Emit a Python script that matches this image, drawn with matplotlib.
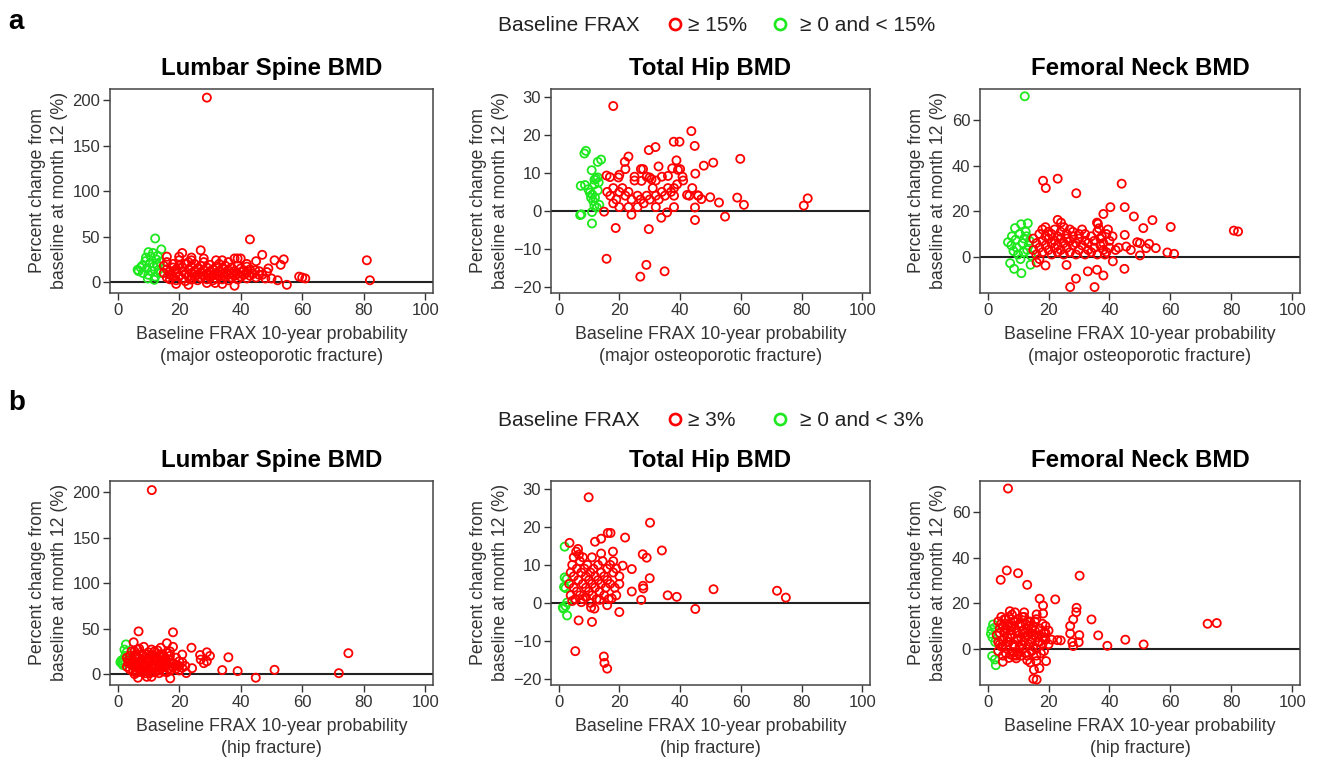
import matplotlib
matplotlib.use("Agg")
import matplotlib.pyplot as plt
from matplotlib.lines import Line2D

plt.rcParams["font.family"] = ["Liberation Sans", "DejaVu Sans"]

RED = "#ff0000"
GREEN = "#1ee81e"

# points are (baseline FRAX %, percent change from baseline %)
# ---- row a: baseline FRAX major osteoporotic fracture ----
a_ls_red = [(29, 203), (43, 47), (81, 24), (82, 2), (47, 30), (51, 24), (54, 25), (53, 19),
            (59, 6), (60, 5), (61, 4), (55, -3), (52, 2), (50, 4), (38, -4), (23, -3), (19, -2),
            (27, 35), (21, 32), (24, 27), (16, 28), (34, 24), (38, 26), (39, 26), (40, 26),
            (45, 23), (48.5, 11), (49, 15), (46, 8), (42, 17), (44.7, 13), (31.7, -1), (29, -1),
            (34, -2), (23.6, 3),
            (15, 10), (15, 18), (16, 5), (16, 14), (16, 22), (17, 8), (17, 12), (17, 3), (18, 16),
            (18, 6), (18, 20), (19, 10), (19, 2), (19, 14), (20, 7), (20, 18), (20, 24), (21, 4),
            (21, 12), (21, 16), (22, 9), (22, 20), (22, 1), (23, 14), (23, 6), (23, 22), (24, 10),
            (24, 3), (24, 17), (25, 12), (25, 6), (25, 20), (26, 8), (26, 15), (26, 2), (27, 11),
            (27, 18), (27, 5), (28, 13), (28, 7), (28, 22), (29, 9), (29, 3), (29, 16), (30, 12),
            (30, 19), (30, 5), (31, 8), (31, 14), (31, 2), (32, 10), (32, 17), (32, 4), (33, 12),
            (33, 7), (33, 20), (34, 9), (34, 15), (34, 3), (35, 11), (35, 6), (35, 18), (36, 8),
            (36, 13), (36, 2), (37, 10), (37, 16), (37, 5), (38, 12), (38, 7), (39, 9), (39, 18),
            (39, 3), (40, 11), (40, 6), (40, 15), (41, 8), (41, 13), (42, 10), (42, 4), (43, 7),
            (43, 14), (44, 9), (45, 5), (46, 12), (47, 8), (48, 4), (36, 22), (32, 24), (28, 26),
            (24, 24), (20, 28), (42, 20)]
a_ls_green = [(12.2, 48), (14.2, 36), (10, 33), (11.5, 32), (9, 23), (13, 29), (6.8, 12),
              (8.2, 10), (6.5, 13.5), (10.6, 21), (11.7, 17), (9.5, 15), (12.8, 19), (11.1, 12),
              (12.2, 6), (10, 8), (13.3, 13.5), (11.9, 2.5), (8, 18), (9.2, 27), (13.8, 22),
              (7.5, 16), (12.5, 25), (10.8, 28), (14, 10), (9.8, 4)]

a_th_red = [(18, 27.6), (43.7, 21), (44.8, 17.1), (37.9, 18.2), (39.8, 18.2), (31.9, 16.8),
            (29.7, 16), (23, 14.3), (21.8, 12.9), (59.8, 13.7), (50.9, 12.7), (47.8, 11.9),
            (38.8, 13.3), (32.9, 11.7), (27.1, 11), (27.8, 11), (39.3, 10.8), (37.4, 11.2),
            (45, 9.8), (40.8, 9), (36, 9.2), (15.8, 9.3), (16.9, 8.9), (20, 9.5), (19.7, 8.8),
            (30, 8.8), (30.6, 8.3), (27.3, 7.9), (47, 3.1), (45.8, 4.1), (49.9, 3.6), (52.8, 2.2),
            (58.8, 3.5), (61, 1.6), (80.7, 1.4), (82, 3.3), (54.8, -1.5), (44.9, 0.9),
            (44.9, -2.4), (35.7, -0.4), (33.8, -1.8), (15, -0.2), (18.8, -4.5), (29.7, -4.8),
            (15.8, -12.6), (28.9, -14.2), (26.9, -17.3), (34.9, -15.9), (42.3, 4.2), (24, -1),
            (16, 5), (17, 4), (18, 2), (18, 6), (19, 3), (20, 1), (20, 5), (21, 6), (22, 4),
            (23, 1), (23, 5), (24, 3), (25, 8), (26, 4), (27, 3), (28, 2), (29, 4), (29, 9),
            (30, 3), (31, 6), (32, 4), (32, 8), (33, 3), (34, 5), (34, 9), (35, 4), (36, 6),
            (37, 5), (38, 4), (38, 6), (39, 7), (40, 11), (41, 8), (43, 4), (44, 6), (46, 4),
            (22, 11), (25, 9), (26, 1), (32, 1), (38, 1)]
a_th_green = [(9, 15.8), (8.5, 15.1), (12.9, 12.9), (14, 13.5), (10.9, 10.7), (7.3, 6.6),
              (8.7, 6.8), (11.8, 8.2), (12.3, 8.5), (12.9, 8.8), (11.8, 7), (13.2, 7.5),
              (9.8, 5.7), (10.3, 4.8), (11.1, 4.3), (12, 3.5), (10.7, 3.5), (12.9, 5.4),
              (7.1, -1.1), (7.5, -0.9), (11, -0.3), (11, -3.3), (11.8, 1.3), (12.6, 0.9),
              (13.4, 1.6), (11.4, 2.6)]

a_fn_red = [(18.2, 33.4), (19.1, 30.2), (23, 34.3), (29.1, 27.9), (44, 32.1), (45, 21.8),
            (40.3, 21.8), (38, 18.8), (48, 17.7), (54.1, 16.1), (51.1, 12.6), (60.1, 13.1),
            (23, 16.2), (24.1, 15), (35.9, 15), (36.2, 14.5), (45, 9.6), (49.1, 6.4), (50, 6),
            (53, 5.7), (52, 3.8), (55.2, 3.8), (59, 1.9), (61.2, 1.3), (50, 0.6), (80.8, 11.5),
            (82.2, 11.1), (44.9, -5.3), (35.9, -5.7), (38, -8.2), (32.9, -6.4), (29, -9.6),
            (27.1, -13.3), (35.1, -13.3), (25.9, -3.6), (19, -3.8), (16.1, -2.5), (41.1, -2),
            (43, 4), (45.5, 4.5), (47, 3),
            (15, 3), (15, 8), (16, 1), (16, 6), (17, 10), (17, 4), (17, -1), (18, 12), (18, 7),
            (18, 2), (19, 9), (19, 5), (19, 13), (20, 3), (20, 8), (20, 11), (21, 6), (21, 1),
            (21, 10), (22, 4), (22, 12), (22, 7), (23, 2), (23, 9), (23, 5), (24, 11), (24, 3),
            (24, 8), (25, 13), (25, 6), (25, 1), (26, 10), (26, 4), (26, 8), (27, 12), (27, 2),
            (27, 7), (28, 11), (28, 5), (28, 9), (29, 1), (29, 6), (30, 10), (30, 3), (30, 8),
            (31, 12), (31, 5), (32, 1), (32, 7), (32, 10), (33, 3), (33, 6), (34, 2), (34, 9),
            (35, 4), (35, 7), (36, 1), (36, 11), (37, 5), (37, 8), (38, 3), (38, 6), (39, 10),
            (39, 2), (40, 7), (40, 4), (41, 9), (42, 3), (36.5, 12.5), (37.5, 9), (38.5, 1),
            (39.5, 12)]
a_fn_green = [(12.2, 70.5), (13.2, 14.7), (11, 14.3), (9, 12.6), (6.7, 6.4), (7.4, -2.8),
              (8.7, -5.3), (11.1, -7.2), (14.1, -3.5), (10.5, 10), (12, 8), (8, 9), (9.5, 4),
              (11.5, 6), (13, 3), (12.5, 11), (10, 1), (7.8, 5), (13.8, 7), (9.2, 7.5),
              (11.8, 2), (12.8, 9), (10.8, -1), (8.5, 2.5), (13.5, 5), (14.2, 0.5)]

# ---- row b: baseline FRAX hip fracture ----
b_ls_red = [(11.1, 202.5), (6.8, 47), (18, 46), (16, 34), (5.2, 35), (24, 29), (29, 24),
            (26.8, 21), (21, 21.5), (36, 18.5), (75, 23), (71.9, 1), (51, 4.7), (39, 3.3),
            (34, 4.4), (44.9, -4), (24.2, 6.5), (22.3, 1.1), (29, 14), (30, 20), (28, 12),
            (27, 16), (17.1, -4.7), (11, -3), (9.5, -3), (6.6, -4), (5.5, 0),
            (3, 8), (3.5, 15), (4, 5), (4, 20), (4.5, 11), (5, 3), (5, 14), (5.5, 25), (6, 8),
            (6, 18), (6.5, 2), (7, 12), (7, 28), (7.5, 6), (8, 16), (8, 22), (8.5, 9), (9, 4),
            (9, 19), (9.5, 13), (10, 7), (10, 24), (10.5, 17), (11, 10), (11, 2), (11.5, 21),
            (12, 14), (12, 6), (12.5, 18), (13, 11), (13, 26), (13.5, 4), (14, 15), (14, 9),
            (14.5, 20), (15, 13), (15, 3), (15.5, 17), (16, 10), (16, 23), (16.5, 6), (17, 15),
            (17, 12), (18, 30), (18, 8), (19, 18), (19, 10), (20, 4), (20, 14), (21, 7), (22, 9),
            (3.5, 12), (4.5, 10), (6, 2), (7.5, 6), (9, 1), (10.5, 1), (12, 2), (13.5, 1),
            (15, 3), (8, 2), (11, 27), (14, 29), (17, 25), (19.5, 9),
            (3, 18), (4, 13), (4.5, 25), (5, 9), (5.5, 19), (6, 12), (6.5, 27), (7, 5), (7, 17),
            (8, 10), (8.5, 30), (9, 14), (9.5, 22), (10, 3), (10, 16), (11, 7), (11, 20),
            (12, 11), (12, 25), (13, 4), (13, 17), (14, 12), (14, 22), (15, 8), (15, 19),
            (16, 14), (17, 4), (17, 20), (18, 12), (19, 6), (20, 9), (21, 13), (6, 22), (9, 8),
            (12, 9), (14, 6), (16, 2)]
b_ls_green = [(2.7, 32.7), (3, 24.4), (1.4, 12), (0.9, 13), (1.9, 16), (2.5, 20), (1.7, 10),
              (2.2, 27), (1.2, 15), (2.9, 18)]

b_th_red = [(9.9, 27.8), (30.1, 21.1), (21.9, 17.2), (16.2, 18.4), (17.1, 18.4), (14, 16.9),
            (12, 16.1), (3.6, 15.8), (6.4, 14.2), (5.8, 13.5), (6.7, 12.7), (34, 13.8),
            (27.7, 12.8), (29, 11.9), (17.9, 13.5), (24.1, 8.9), (21.1, 9.8), (30, 6.5),
            (27.8, 4.5), (27.9, 3.8), (24.1, 3), (27.2, 0.8), (35.9, 2), (38.9, 1.6), (51, 3.6),
            (71.9, 3.2), (74.8, 1.4), (45, -1.6), (20, -2.4), (6.6, -4.6), (11, -5),
            (5.5, -12.7), (14.9, -14.1), (15.1, -15.8), (16, -17.3), (11.8, -1.5), (10.7, -1.2),
            (16, -0.6),
            (3.5, 5), (4, 8), (4, 2), (4.5, 10), (5, 4), (5, 7), (5.5, 1), (6, 9), (6, 3),
            (6.5, 6), (7, 11), (7, 2), (7.5, 8), (8, 5), (8, 1), (8.5, 9), (9, 4), (9, 7),
            (9.5, 10), (10, 3), (10, 6), (10.5, 8), (11, 2), (11, 5), (11.5, 9), (12, 4), (12, 7),
            (12.5, 1), (13, 10), (13, 6), (13.5, 3), (14, 8), (14, 5), (14.5, 11), (15, 2),
            (15, 7), (15.5, 4), (16, 9), (16, 6), (16.5, 1), (17, 10), (17, 5), (18, 11), (18, 8),
            (18.5, 4), (19, 9), (19, 2), (20, 7), (20, 5), (4.5, 0.5), (7.5, 0.2), (10.5, 0),
            (13.5, 0.8), (17.5, 1.2), (5, 12), (8, 12), (11, 12), (14, 13), (9, 1.5)]
b_th_green = [(2, 14.8), (2, 6.7), (2.7, 6.3), (1.8, 4.2), (2.3, 3.9), (1.4, -1.2), (2.3, -0.8),
              (2.8, 0.1), (1.6, -1.5), (2.8, -3.3)]

b_fn_red = [(6.7, 70.4), (6.3, 34.4), (4.3, 30.3), (10, 33.2), (13, 28.1), (30.2, 32.1),
            (22.2, 21.7), (17.1, 22), (18.2, 19), (29.2, 18), (29.1, 16.1), (34.1, 12.9),
            (28.1, 12.9), (27.1, 10), (30.1, 6), (36.3, 5.9), (39.3, 1.3), (45.2, 4), (51.2, 1.9),
            (72.2, 11), (75.2, 11.3), (28.1, 1.2), (27.8, 2.9), (27.1, 6.7), (24, 3.7),
            (22.9, 3.8), (29.9, 2.9), (15, -13.2), (16.1, -13.5), (15.2, -9.2), (16, -5.4),
            (17, -8.5), (19.2, -5.4), (13, -5), (5, -5.7), (9.4, -4.2), (7.5, -2.5), (8.2, -1.5),
            (16.1, 15.1), (18.2, 15.5), (7.3, 16.5), (20, 8), (21, 4),
            (3, 6), (3.5, 12), (4, 2), (4, 9), (4.5, 14), (5, 4), (5, 10), (5.5, 7), (6, 1),
            (6, 13), (6.5, 5), (7, 11), (7, 3), (7.5, 8), (8, 15), (8, 6), (8.5, 2), (9, 12),
            (9, 9), (9.5, 4), (10, 7), (10, 13), (10.5, 1), (11, 10), (11, 5), (11.5, 8),
            (12, 14), (12, 3), (12.5, 11), (13, 6), (13, 9), (13.5, 2), (14, 12), (14, 7),
            (14.5, 4), (15, 10), (15, 1), (15.5, 8), (16, 5), (16, 13), (16.5, 3), (17, 9),
            (17, 6), (18, 11), (18, 2), (18.5, 7), (19, 4), (19, 10), (4.5, 1), (6, -2),
            (8.5, -3), (11.5, 0), (14.5, -1), (17.5, -2), (3.5, -1), (5.5, 8), (9.5, -3),
            (12.5, -2),
            (3.5, 3), (4, 7), (4.5, 11), (5, 1), (5.5, 13), (6, 9), (6.5, 3), (7, 14), (7.5, 5),
            (8, 10), (8.5, 12), (9, 1), (9.5, 8), (10, 4), (10.5, 11), (11, 2), (11.5, 14),
            (12, 7), (12.5, 5), (13, 12), (13.5, 10), (14, 3), (14.5, 9), (15, 6), (15.5, 12),
            (16, 0), (17, 3), (18, 5), (19, 7), (20, 2), (5, -3), (7, -4), (10, -2), (13, -3),
            (16, -3), (18.5, -1), (12, 16), (9, 16), (14, -6), (11, -3)]
b_fn_green = [(1.8, 10.7), (1.3, 8.5), (1.1, 6.6), (2.2, 9.2), (1.5, -3.2), (2.7, -7.2),
              (2.4, -4.7), (1.6, 5), (2.5, 3)]

titles = ["Lumbar Spine BMD", "Total Hip BMD", "Femoral Neck BMD"]
x_ticks = [0, 20, 40, 60, 80, 100]
y_ticks = [[0, 50, 100, 150, 200], [-20, -10, 0, 10, 20, 30], [0, 20, 40, 60]]
y_lims = [(-12, 213), (-21.6, 32.2), (-15.9, 73.9)]
x_labels = ["Baseline FRAX 10-year probability\n(major osteoporotic fracture)",
            "Baseline FRAX 10-year probability\n(hip fracture)"]
y_label = "Percent change from\nbaseline at month 12 (%)"
legend_labels = [("\u2265 15%", "\u2265 0 and < 15%"), ("\u2265 3%", "\u2265 0 and < 3%")]

rows = [
    [(a_ls_red, a_ls_green), (a_th_red, a_th_green), (a_fn_red, a_fn_green)],
    [(b_ls_red, b_ls_green), (b_th_red, b_th_green), (b_fn_red, b_fn_green)],
]

fig = plt.figure(figsize=(13.2, 7.6), dpi=100)

lefts = [0.0833, 0.4174, 0.7424]
widths = [0.2447, 0.2417, 0.2424]
bottoms = [0.6145, 0.0987]
height = 0.2690

for r, row in enumerate(rows):
    for c, (red_pts, green_pts) in enumerate(row):
        ax = fig.add_axes([lefts[c], bottoms[r], widths[c], height])
        gx, gy = zip(*green_pts)
        rx, ry = zip(*red_pts)
        ax.scatter(gx, gy, s=34, facecolors="none", edgecolors=GREEN, linewidths=1.3, zorder=3)
        ax.scatter(rx, ry, s=34, facecolors="none", edgecolors=RED, linewidths=1.3, zorder=3)
        ax.axhline(0, color="#222222", lw=1.5, zorder=2)
        ax.set_xlim(-2.5, 102.5)
        ax.set_ylim(*y_lims[c])
        ax.set_xticks(x_ticks)
        ax.set_yticks(y_ticks[c])
        ax.tick_params(direction="out", length=5, width=1, colors="#333333",
                       labelsize=12, labelcolor="#333333", pad=2)
        for sp in ax.spines.values():
            sp.set_color("#444444")
            sp.set_linewidth(1.1)
        ax.set_title(titles[c], fontsize=17.3, fontweight="bold", pad=10)
        ax.set_xlabel(x_labels[r], fontsize=12.8, color="#333333", labelpad=6,
                      linespacing=1.4)
        ax.set_ylabel(y_label, fontsize=12.8, color="#333333", labelpad=3,
                      linespacing=1.4)

# panel letters
fig.text(0.006, 0.971, "a", fontsize=20, fontweight="bold", va="center")
fig.text(0.006, 0.4695, "b", fontsize=20, fontweight="bold", va="center")

# legends (one per row, above the panels)
for y, (lab_hi, lab_lo) in zip([0.9662, 0.4464], legend_labels):
    fig.text(0.3773, y, "Baseline FRAX", fontsize=15, va="center", color="#222222")
    fig.add_artist(Line2D([0.5110], [y + 0.002], transform=fig.transFigure, ls="none",
                          marker="o", ms=8, mfc="none", mec=RED, mew=1.9))
    fig.text(0.5215, y, lab_hi, fontsize=15, va="center", color="#222222")
    fig.add_artist(Line2D([0.5910], [y + 0.002], transform=fig.transFigure, ls="none",
                          marker="o", ms=8, mfc="none", mec=GREEN, mew=1.9))
    fig.text(0.6061, y, lab_lo, fontsize=15, va="center", color="#222222")

fig.savefig("out.png", dpi=100)
